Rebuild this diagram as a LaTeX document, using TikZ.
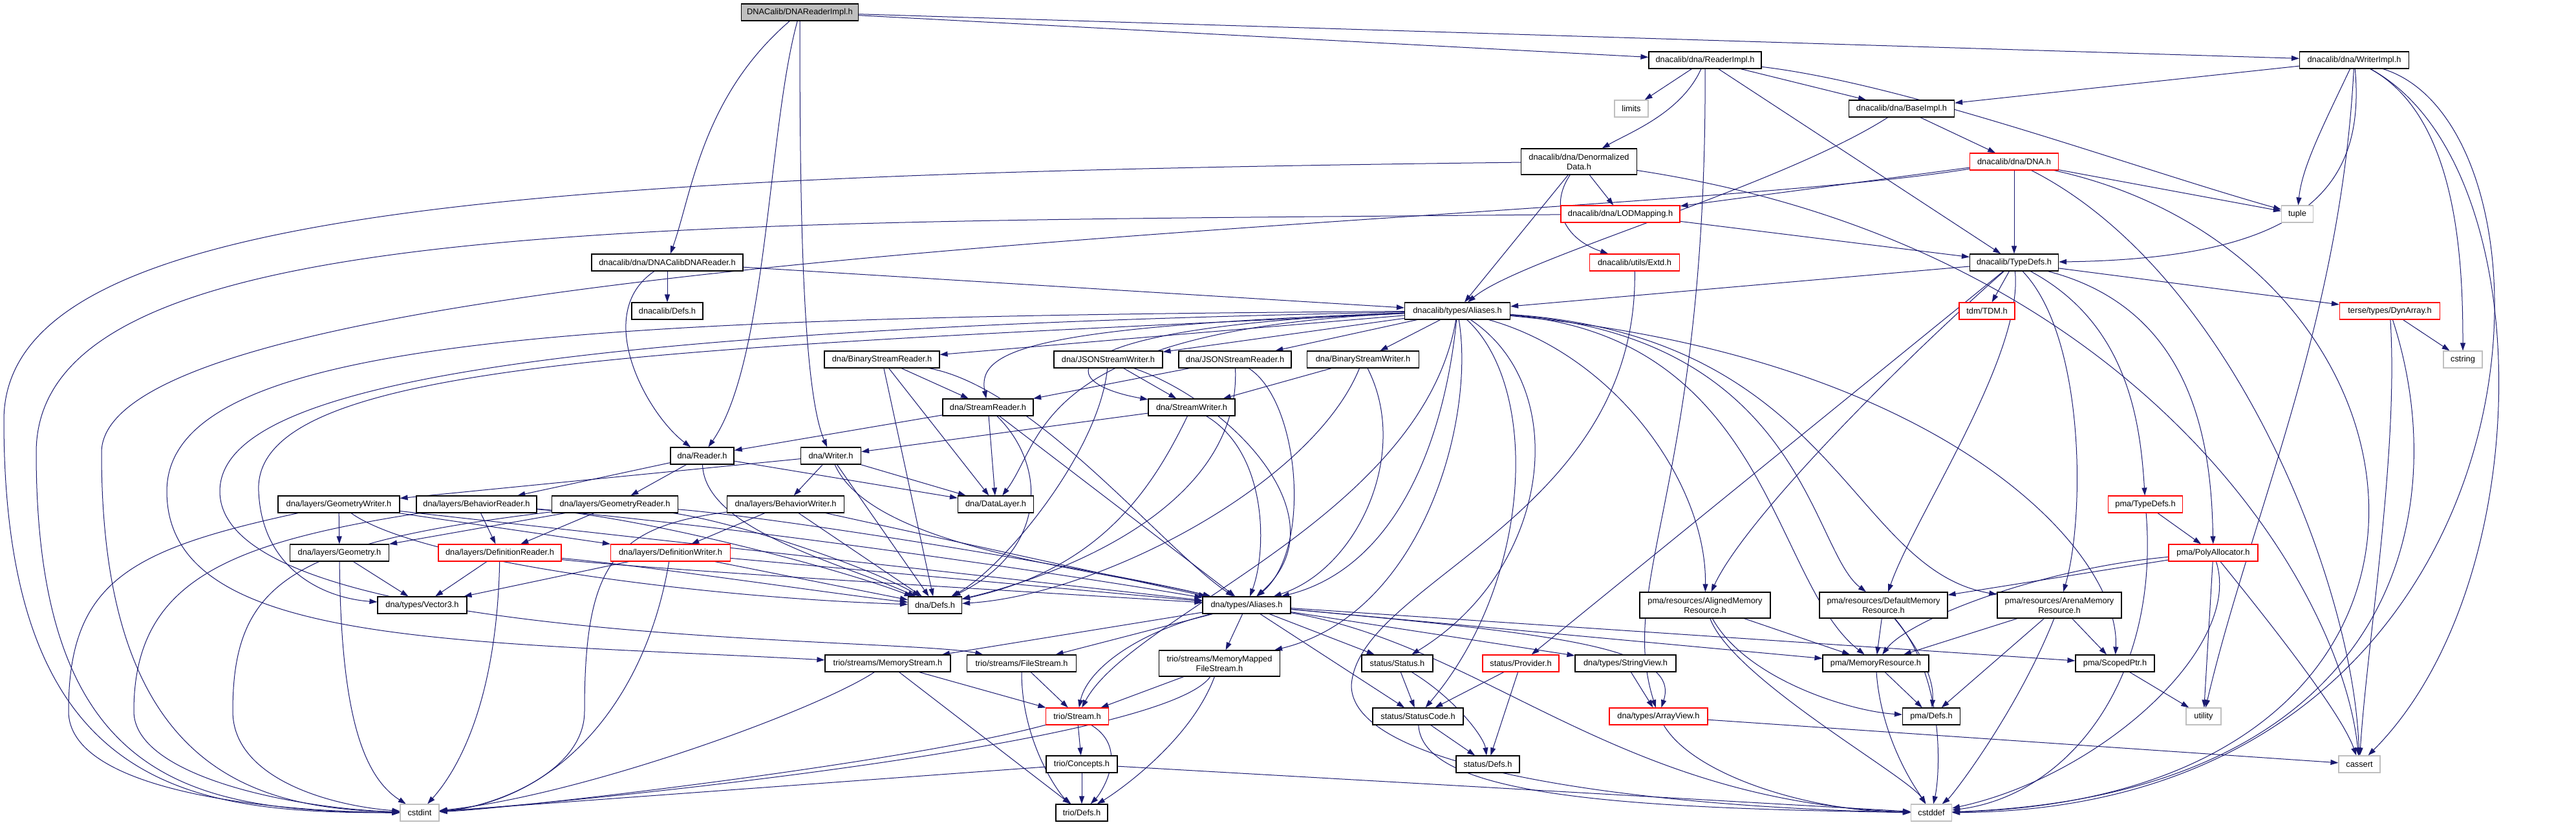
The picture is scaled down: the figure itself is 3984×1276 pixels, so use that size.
\documentclass[tikz,border=0pt]{standalone}
\usepackage{fontspec}
\setmainfont{Liberation Sans}
\usetikzlibrary{arrows.meta}
\definecolor{eblue}{RGB}{25,25,112}
\definecolor{lgray}{RGB}{191,191,191}
\newcommand\dxfont{\fontsize{12.8}{15}\selectfont}
\newcommand\mkn[6]{\node[#5, minimum width=#4pt] (#1) at (#2,-#3) {#6};}
\pgfdeclarelayer{bg}
\pgfdeclarelayer{paper}
\pgfsetlayers{paper,bg,main}
\begin{document}
\begin{tikzpicture}[x=1pt,y=1pt,
 bx/.style={draw=black,line width=1.2pt,fill=white,inner sep=0pt,minimum height=26pt,align=center,font=\dxfont},
 rb/.style={bx,draw=red},
 gb/.style={bx,draw=lgray},
 tb/.style={minimum height=40pt},
 e/.style={draw=eblue,line width=1pt,-{Triangle[length=12pt,width=8pt]}}]
\begin{pgfonlayer}{paper}
\fill[white] (0,0) rectangle (3984,-1276);
\end{pgfonlayer}
\useasboundingbox (0,0) rectangle (3984,-1276);
\mkn{root}{1237}{19}{181}{bx,fill=lgray}{DNACalib/DNAReaderImpl.h}
\mkn{dcr}{1032}{406}{234}{bx}{dnacalib/dna/DNACalibDNAReader.h}
\mkn{ri}{2637}{93}{174}{bx}{dnacalib/dna/ReaderImpl.h}
\mkn{wi}{3641}{93}{169}{bx}{dnacalib/dna/WriterImpl.h}
\mkn{limits}{2523}{168}{52}{gb}{limits}
\mkn{bi}{2941}{168}{163}{bx}{dnacalib/dna/BaseImpl.h}
\mkn{dn}{2442}{250}{179}{bx,tb}{dnacalib/dna/Denormalized\\Data.h}
\mkn{dna}{3115}{250}{137}{rb}{dnacalib/dna/DNA.h}
\mkn{tuple}{3553}{331}{49}{gb}{tuple}
\mkn{lod}{2506}{331}{184}{rb}{dnacalib/dna/LODMapping.h}
\mkn{td}{3115}{406}{137}{bx}{dnacalib/TypeDefs.h}
\mkn{extd}{2528}{406}{139}{rb}{dnacalib/utils/Extd.h}
\mkn{cdefs}{1032}{481}{110}{bx}{dnacalib/Defs.h}
\mkn{al}{2254}{481}{163}{bx}{dnacalib/types/Aliases.h}
\mkn{tdm}{3073}{481}{86}{rb}{tdm/TDM.h}
\mkn{dyn}{3696}{481}{155}{rb}{terse/types/DynArray.h}
\mkn{cstring}{3809}{556}{60}{gb}{cstring}
\mkn{bsr}{1364}{556}{178}{bx}{dna/BinaryStreamReader.h}
\mkn{jsw}{1714}{556}{168}{bx}{dna/JSONStreamWriter.h}
\mkn{jsr}{1910}{556}{174}{bx}{dna/JSONStreamReader.h}
\mkn{bsw}{2108}{556}{173}{bx}{dna/BinaryStreamWriter.h}
\mkn{sr}{1528}{630}{140}{bx}{dna/StreamReader.h}
\mkn{sw}{1843}{630}{134}{bx}{dna/StreamWriter.h}
\mkn{rd}{1086}{705}{98}{bx}{dna/Reader.h}
\mkn{wr}{1285}{705}{93}{bx}{dna/Writer.h}
\mkn{dl}{1540}{780}{117}{bx}{dna/DataLayer.h}
\mkn{gw}{524}{780}{188}{bx}{dna/layers/GeometryWriter.h}
\mkn{br}{737}{780}{186}{bx}{dna/layers/BehaviorReader.h}
\mkn{gr}{951}{780}{195}{bx}{dna/layers/GeometryReader.h}
\mkn{bw}{1215}{780}{181}{bx}{dna/layers/BehaviorWriter.h}
\mkn{geo}{525}{855}{153}{bx}{dna/layers/Geometry.h}
\mkn{defr}{773}{855}{190}{rb}{dna/layers/DefinitionReader.h}
\mkn{defw}{1037}{855}{185}{rb}{dna/layers/DefinitionWriter.h}
\mkn{pmatd}{3318}{780}{115}{rb}{pma/TypeDefs.h}
\mkn{poly}{3423}{855}{138}{rb}{pma/PolyAllocator.h}
\mkn{vec}{653}{936}{138}{bx}{dna/types/Vector3.h}
\mkn{ddefs}{1446}{936}{83}{bx}{dna/Defs.h}
\mkn{dal}{1928}{936}{136}{bx}{dna/types/Aliases.h}
\mkn{amr}{2637}{936}{202}{bx,tb}{pma/resources/AlignedMemory\\Resource.h}
\mkn{dmr}{2913}{936}{198}{bx,tb}{pma/resources/DefaultMemory\\Resource.h}
\mkn{armr}{3185}{936}{192}{bx,tb}{pma/resources/ArenaMemory\\Resource.h}
\mkn{ms}{1373}{1026}{194}{bx}{trio/streams/MemoryStream.h}
\mkn{fs}{1580}{1026}{169}{bx}{trio/streams/FileStream.h}
\mkn{mmfs}{1886}{1026}{187}{bx,tb}{trio/streams/MemoryMapped\\FileStream.h}
\mkn{st}{2161}{1026}{110}{bx}{status/Status.h}
\mkn{prov}{2352}{1026}{118}{rb}{status/Provider.h}
\mkn{sv}{2514}{1026}{156}{bx}{dna/types/StringView.h}
\mkn{mr}{2901}{1026}{164}{bx}{pma/MemoryResource.h}
\mkn{sp}{3271}{1026}{122}{bx}{pma/ScopedPtr.h}
\mkn{stream}{1666}{1108}{97}{rb}{trio/Stream.h}
\mkn{sc}{2193}{1108}{140}{bx}{status/StatusCode.h}
\mkn{av}{2565}{1108}{152}{rb}{dna/types/ArrayView.h}
\mkn{pdefs}{2987}{1108}{89}{bx}{pma/Defs.h}
\mkn{utility}{3408}{1108}{54}{gb}{utility}
\mkn{conc}{1673}{1182}{110}{bx}{trio/Concepts.h}
\mkn{sdefs}{2301}{1182}{98}{bx}{status/Defs.h}
\mkn{cassert}{3649}{1182}{64}{gb}{cassert}
\mkn{tdefs}{1673}{1257}{80}{bx}{trio/Defs.h}
\mkn{cstdint}{649}{1257}{60}{gb}{cstdint}
\mkn{cstddef}{2987}{1257}{63}{gb}{cstddef}
\begin{pgfonlayer}{bg}
% root
\draw[e] (root) .. controls (1085,-150) and (1070,-300) .. (dcr);
\draw[e] (root) .. controls (1187,-200) and (1187,-560) .. (rd);
\draw[e] (root) .. controls (1237,-300) and (1240,-600) .. (wr);
\draw[e] (root) -- (ri);
\draw[e] (root) -- (wi);
% dcr
\draw[e] (dcr) -- (cdefs);
\draw[e] (dcr) -- (al);
\draw[e] (dcr) .. controls (915,-485) and (1000,-640) .. (rd);
% ri
\draw[e] (ri) -- (limits);
\draw[e] (ri) .. controls (2600,-175) and (2520,-205) .. (dn);
\draw[e] (ri) -- (bi);
\draw[e] (ri) -- (td);
\draw[e] (ri) .. controls (2950,-130) and (3300,-260) .. (tuple);
\draw[e] (ri) .. controls (2640,-750) and (2500,-900) .. (av);
% wi
\draw[e] (wi) -- (bi);
\draw[e] (wi) .. controls (3590,-200) and (3560,-260) .. (tuple);
\draw[e] (wi) .. controls (3660,-300) and (3550,-400) .. (td);
\draw[e] (wi) .. controls (3620,-500) and (3480,-800) .. (utility);
\draw[e] (wi) .. controls (3800,-180) and (3809,-400) .. (cstring);
\draw[e] (wi) .. controls (3930,-250) and (3930,-900) .. (cassert);
\draw[e] (wi) .. controls (3990,-200) and (3960,-1250) .. (cstddef);
% bi
\draw[e] (bi) -- (dna);
\draw[e] (bi) .. controls (2750,-290) and (2350,-400) .. (al);
% dn
\draw[e] (dn) -- (lod);
\draw[e] (dn) .. controls (2395,-320) and (2420,-370) .. (extd);
\draw[e] (dn) -- (al);
\draw[e] (dn) .. controls (800,-270) and (6,-320) .. (6,-650) .. controls (6,-1230) and (300,-1257) .. (cstdint);
\draw[e] (dn) .. controls (3300,-380) and (3620,-900) .. (cassert);
% dna
\draw[e] (dna) -- (lod);
\draw[e] (dna) -- (td);
\draw[e] (dna) -- (tuple);
\draw[e] (dna) .. controls (3450,-420) and (3640,-900) .. (cassert);
\draw[e] (dna) .. controls (3800,-400) and (3900,-1230) .. (cstddef);
\draw[e] (dna) .. controls (2500,-350) and (157,-380) .. (157,-700) .. controls (157,-1200) and (400,-1250) .. (cstdint);
% lod
\draw[e] (lod) -- (td);
\draw[e] (lod) .. controls (1000,-345) and (56,-330) .. (56,-700) .. controls (56,-1215) and (300,-1255) .. (cstdint);
% td
\draw[e] (td) -- (al);
\draw[e] (td) -- (tdm);
\draw[e] (td) -- (dyn);
\draw[e] (td) .. controls (3400,-480) and (3420,-700) .. (poly);
\draw[e] (td) .. controls (3290,-500) and (3310,-650) .. (pmatd);
\draw[e] (td) .. controls (3225,-520) and (3225,-800) .. (armr);
\draw[e] (td) .. controls (3130,-550) and (2960,-800) .. (dmr);
\draw[e] (td) .. controls (2950,-550) and (2700,-800) .. (amr);
\draw[e] (td) -- (prov);
% extd
\draw[e] (extd) .. controls (2534,-800) and (2100,-900) .. (2090,-1060) .. controls (2090,-1200) and (2600,-1250) .. (cstddef);
% al
\draw[e] (al) -- (bsr);
\draw[e] (al) -- (jsw);
\draw[e] (al) -- (jsr);
\draw[e] (al) -- (bsw);
\draw[e] (al) .. controls (1600,-505) and (1510,-540) .. (sr);
\draw[e] (al) .. controls (1620,-505) and (1620,-590) .. (sw);
\draw[e] (al) .. controls (1600,-510) and (1615,-680) .. (dl);
\draw[e] (al) .. controls (2232,-700) and (2150,-880) .. (dal);
\draw[e] (al) .. controls (2282,-650) and (2200,-950) .. (mmfs);
\draw[e] (al) .. controls (2383,-600) and (2370,-900) .. (sc);
\draw[e] (al) .. controls (2433,-600) and (2400,-880) .. (st);
\draw[e] (al) .. controls (2500,-550) and (2640,-750) .. (amr);
\draw[e] (al) .. controls (2737,-520) and (2740,-900) .. (mr);
\draw[e] (al) .. controls (2789,-520) and (2800,-850) .. (dmr);
\draw[e] (al) .. controls (2840,-520) and (2860,-880) .. (armr);
\draw[e] (al) .. controls (3000,-550) and (3280,-850) .. (sp);
\draw[e] (al) .. controls (2200,-800) and (1750,-950) .. (stream);
\draw[e] (al) .. controls (1000,-540) and (390,-560) .. (400,-760) .. controls (405,-880) and (500,-925) .. (vec);
\draw[e] (al) .. controls (900,-490) and (258,-520) .. (258,-760) .. controls (258,-1000) and (700,-990) .. (ms);
\draw[e] (al) .. controls (800,-510) and (340,-600) .. (340,-760) .. controls (340,-1000) and (1400,-985) .. (fs);
% dal
\draw[e] (dal) -- (ms);
\draw[e] (dal) -- (fs);
\draw[e] (dal) -- (mmfs);
\draw[e] (dal) .. controls (1750,-980) and (1680,-1040) .. (stream);
\draw[e] (dal) -- (st);
\draw[e] (dal) -- (sc);
\draw[e] (dal) -- (sv);
\draw[e] (dal) .. controls (2400,-980) and (2600,-1000) .. (av);
\draw[e] (dal) -- (mr);
\draw[e] (dal) -- (sp);
\draw[e] (dal) .. controls (2300,-1000) and (2500,-1240) .. (cstddef);
% status
\draw[e] (st) -- (sc);
\draw[e] (st) .. controls (2250,-1080) and (2295,-1140) .. (sdefs);
\draw[e] (prov) -- (sc);
\draw[e] (prov) -- (sdefs);
\draw[e] (sc) -- (sdefs);
\draw[e] (sc) .. controls (2200,-1230) and (2500,-1250) .. (cstddef);
\draw[e] (sv) -- (av);
\draw[e] (av) -- (cassert);
\draw[e] (av) .. controls (2620,-1200) and (2800,-1255) .. (cstddef);
% trio
\draw[e] (ms) -- (stream);
\draw[e] (ms) -- (tdefs);
\draw[e] (ms) .. controls (1260,-1100) and (900,-1230) .. (cstdint);
\draw[e] (fs) -- (stream);
\draw[e] (fs) .. controls (1580,-1150) and (1640,-1230) .. (tdefs);
\draw[e] (mmfs) -- (stream);
\draw[e] (mmfs) .. controls (1840,-1150) and (1720,-1230) .. (tdefs);
\draw[e] (mmfs) .. controls (1800,-1150) and (900,-1240) .. (cstdint);
\draw[e] (stream) -- (conc);
\draw[e] (stream) .. controls (1750,-1160) and (1700,-1230) .. (tdefs);
\draw[e] (stream) .. controls (1400,-1180) and (800,-1250) .. (cstdint);
\draw[e] (conc) -- (tdefs);
\draw[e] (conc) -- (cstdint);
\draw[e] (conc) -- (cstddef);
% pma
\draw[e] (amr) -- (mr);
\draw[e] (amr) .. controls (2700,-1050) and (2860,-1100) .. (pdefs);
\draw[e] (amr) .. controls (2680,-1050) and (2950,-1200) .. (cstddef);
\draw[e] (dmr) -- (mr);
\draw[e] (dmr) .. controls (2990,-1030) and (2990,-1070) .. (pdefs);
\draw[e] (dmr) .. controls (3010,-1050) and (3000,-1200) .. (cstddef);
\draw[e] (armr) -- (mr);
\draw[e] (armr) -- (pdefs);
\draw[e] (armr) -- (sp);
\draw[e] (armr) .. controls (3120,-1100) and (3020,-1230) .. (cstddef);
\draw[e] (mr) -- (pdefs);
\draw[e] (mr) .. controls (2910,-1150) and (2970,-1230) .. (cstddef);
\draw[e] (sp) -- (utility);
\draw[e] (poly) -- (dmr);
\draw[e] (poly) .. controls (3150,-880) and (2950,-960) .. (mr);
\draw[e] (poly) -- (utility);
\draw[e] (poly) .. controls (3500,-950) and (3620,-1100) .. (cassert);
\draw[e] (poly) .. controls (3470,-1000) and (3250,-1200) .. (cstddef);
\draw[e] (pmatd) -- (poly);
\draw[e] (pmatd) .. controls (3340,-1050) and (3200,-1230) .. (cstddef);
\draw[e] (dyn) -- (cstring);
\draw[e] (dyn) .. controls (3710,-700) and (3660,-1000) .. (cassert);
\draw[e] (dyn) .. controls (3800,-800) and (3700,-1230) .. (cstddef);
% reader / writer
\draw[e] (rd) -- (br);
\draw[e] (rd) -- (gr);
\draw[e] (rd) -- (dl);
\draw[e] (rd) .. controls (1090,-820) and (1300,-870) .. (ddefs);
\draw[e] (wr) -- (gw);
\draw[e] (wr) -- (bw);
\draw[e] (wr) -- (dl);
\draw[e] (wr) -- (ddefs);
\draw[e] (wr) .. controls (1350,-850) and (1700,-880) .. (dal);
% streams
\draw[e] (sr) -- (rd);
\draw[e] (sr) -- (dl);
\draw[e] (sr) .. controls (1620,-720) and (1620,-850) .. (ddefs);
\draw[e] (sr) -- (dal);
\draw[e] (sw) -- (wr);
\draw[e] (sw) .. controls (1780,-760) and (1700,-880) .. (ddefs);
\draw[e] (sw) .. controls (1960,-700) and (1960,-850) .. (dal);
\draw[e] (bsr) -- (sr);
\draw[e] (bsr) -- (dl);
\draw[e] (bsr) -- (ddefs);
\draw[e] (bsr) .. controls (1600,-600) and (1800,-850) .. (dal);
\draw[e] (jsw) -- (sw);
\draw[e] (jsw) .. controls (1700,-700) and (1550,-880) .. (ddefs);
\draw[e] (jsw) .. controls (1900,-620) and (2080,-800) .. (dal);
\draw[e] (jsr) -- (sr);
\draw[e] (jsr) .. controls (1920,-800) and (1600,-900) .. (ddefs);
\draw[e] (jsr) .. controls (2010,-620) and (2030,-850) .. (dal);
\draw[e] (bsw) -- (sw);
\draw[e] (bsw) .. controls (2029,-750) and (1700,-920) .. (ddefs);
\draw[e] (bsw) .. controls (2182,-700) and (2100,-880) .. (dal);
% layers
\draw[e] (gw) -- (geo);
\draw[e] (gw) -- (defw);
\draw[e] (gw) .. controls (650,-870) and (1100,-925) .. (ddefs);
\draw[e] (gw) .. controls (200,-850) and (106,-900) .. (106,-1100) .. controls (106,-1220) and (400,-1255) .. (cstdint);
\draw[e] (gw) -- (dal);
\draw[e] (br) -- (defr);
\draw[e] (br) .. controls (350,-840) and (207,-900) .. (207,-1100) .. controls (207,-1200) and (450,-1250) .. (cstdint);
\draw[e] (br) .. controls (1000,-800) and (1300,-880) .. (ddefs);
\draw[e] (br) .. controls (1100,-810) and (1600,-880) .. (dal);
\draw[e] (gr) -- (defr);
\draw[e] (gr) -- (geo);
\draw[e] (gr) .. controls (450,-840) and (360,-900) .. (360,-1100) .. controls (360,-1200) and (500,-1245) .. (cstdint);
\draw[e] (gr) .. controls (1150,-810) and (1350,-880) .. (ddefs);
\draw[e] (gr) .. controls (1200,-800) and (1700,-880) .. (dal);
\draw[e] (bw) -- (defw);
\draw[e] (bw) .. controls (950,-815) and (904,-870) .. (904,-1100) .. controls (904,-1200) and (750,-1250) .. (cstdint);
\draw[e] (bw) -- (ddefs);
\draw[e] (bw) -- (dal);
\draw[e] (geo) -- (vec);
\draw[e] (geo) .. controls (527,-1100) and (560,-1200) .. (cstdint);
\draw[e] (defr) -- (vec);
\draw[e] (defr) .. controls (768,-1100) and (700,-1200) .. (cstdint);
\draw[e] (defr) .. controls (1000,-875) and (1300,-920) .. (ddefs);
\draw[e] (defr) .. controls (1000,-880) and (1500,-910) .. (dal);
\draw[e] (defw) -- (vec);
\draw[e] (defw) .. controls (996,-1100) and (850,-1240) .. (cstdint);
\draw[e] (defw) -- (ddefs);
\draw[e] (defw) -- (dal);
\end{pgfonlayer}
\end{tikzpicture}
\end{document}
